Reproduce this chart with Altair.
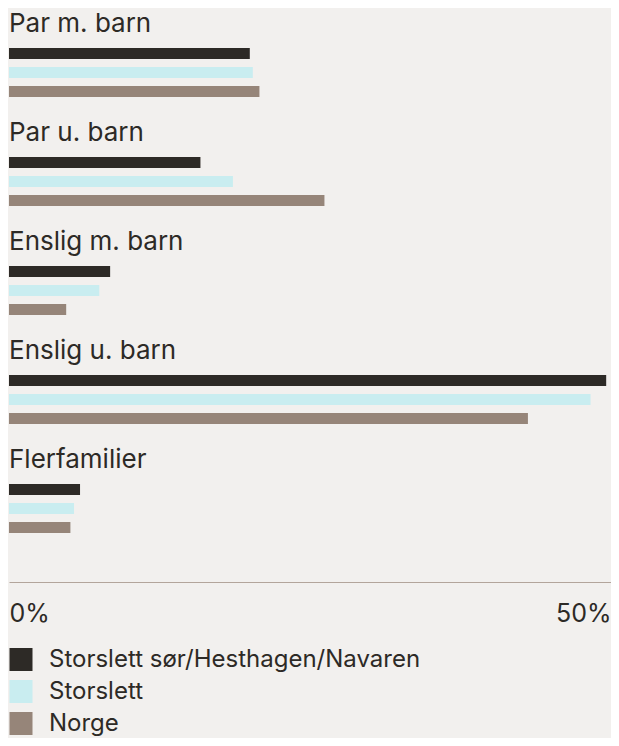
import altair as alt
import pandas as pd

categories = ["Par m. barn", "Par u. barn", "Enslig m. barn", "Enslig u. barn", "Flerfamilier"]
series = ["Storslett sør/Hesthagen/Navaren", "Storslett", "Norge"]
values_local = [20.0, 15.9, 8.4, 49.6, 5.9]
values_storslett = [20.25, 18.6, 7.5, 48.3, 5.4]
values_norge = [20.8, 26.2, 4.75, 43.1, 5.1]
colors = ["#2d2a26", "#c9edf0", "#968579"]
x_ticks = [0, 50]

rows = []
for s, vals in zip(series, [values_local, values_storslett, values_norge]):
    for c, v in zip(categories, vals):
        rows.append({"cat": c, "series": s, "value": v})
df = pd.DataFrame(rows)
labels_df = pd.DataFrame({"cat": categories})

FONT = "Inter"
TEXT = "#2d2a26"

yscale = alt.Scale(paddingInner=0, paddingOuter=0.133, align=0)

bars = alt.Chart(df).mark_bar().encode(
    x=alt.X("value:Q",
            scale=alt.Scale(domain=[0, 50], nice=False),
            axis=alt.Axis(values=x_ticks, labelExpr="datum.value + '%'", title=None,
                          labelFlush=True, ticks=False, grid=False,
                          domainColor="#b3a59b", domainWidth=1,
                          labelFont=FONT, labelFontSize=25, labelColor=TEXT,
                          labelBaseline="top", labelPadding=19)),
    y=alt.Y("cat:N", sort=categories, scale=yscale, axis=None),
    yOffset=alt.YOffset("series:N", sort=series,
                        scale=alt.Scale(range=[36, 93], paddingInner=0.421,
                                        paddingOuter=0.21, align=0.5)),
    color=alt.Color("series:N", sort=series,
                    scale=alt.Scale(domain=series, range=colors),
                    legend=alt.Legend(title=None, orient="none", legendX=0, legendY=639.5,
                                      direction="vertical", symbolType="square",
                                      symbolSize=529, symbolStrokeWidth=0,
                                      labelFont=FONT, labelFontSize=24, labelColor=TEXT,
                                      labelOffset=16, rowPadding=8, padding=0,
                                      labelLimit=500)),
)

labels = alt.Chart(labels_df).mark_text(
    align="left", baseline="alphabetic", dy=24, fontSize=26, font=FONT, color=TEXT
).encode(
    x=alt.value(0),
    y=alt.Y("cat:N", sort=categories, scale=yscale, bandPosition=0, axis=None),
    text="cat:N",
)

chart = alt.layer(bars, labels).properties(
    width=602, height=574, background="#f2f0ee",
    padding={"left": 1, "top": 0, "right": 0, "bottom": 156},
    autosize=alt.AutoSizeParams(type="none"),
).configure_view(stroke=None)

chart.save("out.html", embed_options={"renderer": "svg", "actions": False})
